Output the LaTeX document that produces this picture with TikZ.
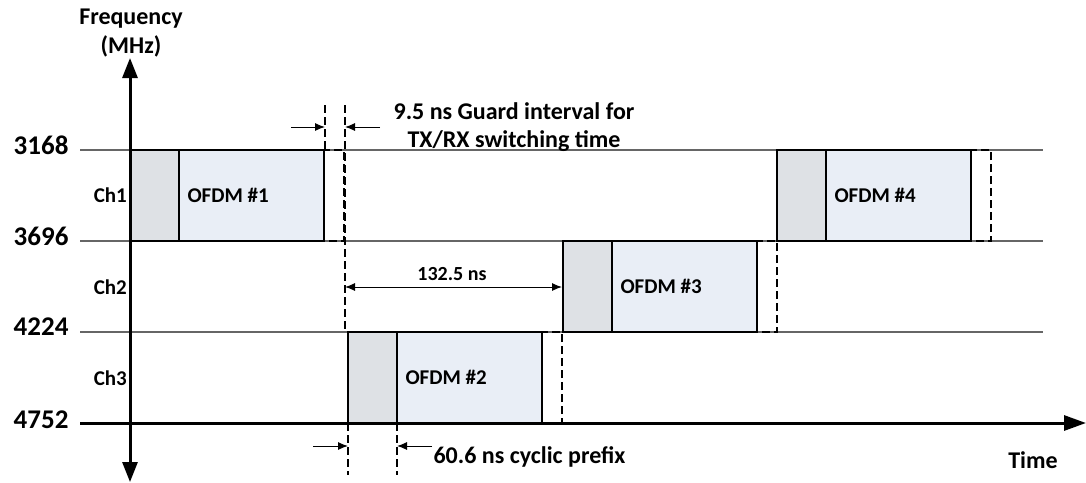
\documentclass[tikz,border=0pt]{standalone}
\usepackage{fontspec}
\setmainfont{Carlito}
\usetikzlibrary{arrows.meta,positioning}
\definecolor{cpgray}{RGB}{222,225,229}
\definecolor{symblue}{RGB}{233,238,246}

\begin{document}
\begin{tikzpicture}[x=1pt, y=-1pt,
    axis line/.style={line width=3pt},
    band line/.style={line width=1.3pt, draw=black!60},
    cp box/.style={draw, line width=1.3pt, fill=cpgray},
    data box/.style={draw, line width=1.3pt, fill=symblue},
    guard box/.style={draw, dash pattern=on 8pt off 4pt, line width=1.1pt},
    marker/.style={dash pattern=on 8pt off 4pt, line width=1.1pt},
    dim arrow/.style={line width=1pt, -{Latex[length=10pt,width=8pt]}},
    tick label/.style={font=\fontsize{27}{29}\selectfont\bfseries, anchor=east},
    ch label/.style={font=\fontsize{21}{23}\selectfont\bfseries, anchor=east, inner sep=1pt},
    sym label/.style={font=\fontsize{21}{23}\selectfont\bfseries, anchor=west},
    note/.style={font=\fontsize{24}{28.5}\selectfont\bfseries, align=center}]
    \tikzstyle{every node}=[font=\bfseries]

    \useasboundingbox (0,0) rectangle (1086,482);

    % frequency bands
    \foreach \y/\f in {150/3168, 241/3696, 332/4224} {
        \coordinate (b\f) at (80,\y);
        \coordinate (e\f) at (1043,\y);
        \draw[band line] (b\f) -- (e\f);
        \node[tick label] (lab\f) at (72,\y-5) {\f};
    }
    \node[tick label] (lab4752) at (72,420) {4752};

    \node[ch label] (ch1) at (128,195) {Ch1};
    \node[ch label] (ch2) at (128,287) {Ch2};
    \node[ch label] (ch3) at (128,378) {Ch3};

    % OFDM symbols: cyclic prefix, data, guard
    \foreach \n/\xs/\yt in {1/130/150, 2/348/332, 3/563/241, 4/777/150} {
        \draw[cp box] (\xs,\yt) rectangle ++(49,91);
        \draw[data box] (\xs+49,\yt) rectangle ++(145,91);
        \draw[guard box] (\xs+194,\yt) rectangle ++(20,91);
        \node[sym label] (ofdm\n) at (\xs+54,\yt+45.5) {OFDM \#\n};
    }

    % axes
    \coordinate (f top) at (130,58);
    \coordinate (f bot) at (130,482);
    \coordinate (t left) at (80,423);
    \coordinate (t right) at (1086,423);
    \draw[axis line, {Triangle[length=20pt,width=15pt]}-{Triangle[length=20pt,width=15pt]}] (f bot) -- (f top);
    \draw[axis line, -{Triangle[length=22pt,width=15pt]}] (t left) -- (t right);

    \node[note] (freq) at (131,33) {Frequency\\(MHz)};
    \node[font=\fontsize{24}{26}\selectfont\bfseries] (time) at (1033,460) {Time};

    % guard interval
    \coordinate (g1 top) at (325,105);
    \coordinate (g1 bot) at (325,150);
    \coordinate (g2 top) at (345,105);
    \coordinate (g2 bot) at (345,332);
    \draw[marker] (g1 top) -- (g1 bot);
    \draw[marker] (g2 top) -- (g2 bot);
    \coordinate (ga) at (291,127);
    \coordinate (gb) at (380,127);
    \draw[dim arrow] (ga) -- (ga -| g1 top);
    \draw[dim arrow] (gb) -- (gb -| g2 top);
    \node[note] (guard) at (514,127) {9.5 ns Guard interval for\\TX/RX switching time};

    % spacing between symbols
    \coordinate (s end) at (562,287);
    \draw[line width=1pt, {Latex[length=10pt,width=8pt]}-{Latex[length=10pt,width=8pt]}] (g2 top |- s end) -- (s end);
    \node[font=\fontsize{20}{22}\selectfont\bfseries] (gap) at (452,274) {132.5 ns};

    % cyclic prefix
    \coordinate (c1 top) at (348,423);
    \coordinate (c1 bot) at (348,475);
    \coordinate (c2 top) at (397,423);
    \coordinate (c2 bot) at (397,475);
    \draw[marker] (c1 top) -- (c1 bot);
    \draw[marker] (c2 top) -- (c2 bot);
    \coordinate (ca) at (313,446);
    \coordinate (cb) at (432,446);
    \draw[dim arrow] (ca) -- (ca -| c1 top);
    \draw[dim arrow] (cb) -- (cb -| c2 top);
    \node[note, anchor=west] (cp) at (430,457) {60.6 ns cyclic prefix};
\end{tikzpicture}
\end{document}
